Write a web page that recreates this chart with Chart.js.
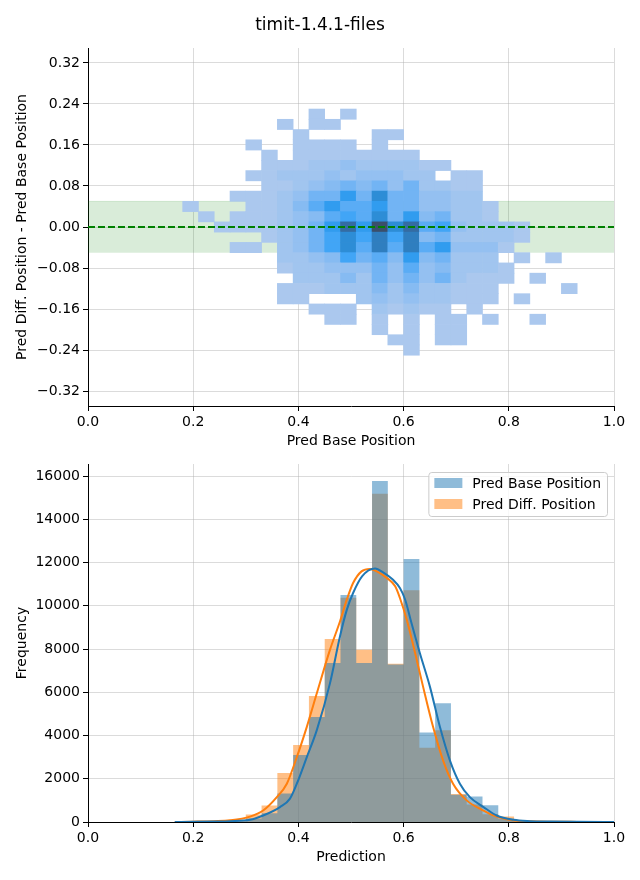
<!DOCTYPE html>
<html><head><meta charset="utf-8">
<script src="https://cdn.jsdelivr.net/npm/chart.js@4.4.1/dist/chart.umd.min.js"></script>
<style>
html,body{margin:0;padding:0;background:#fff;}
#wrap{position:relative;width:640px;height:880px;background:#fff;}
#c1{position:absolute;left:0;top:0;}
#c2{position:absolute;left:0;top:450px;}
</style></head><body>
<div id="wrap"><canvas id="c1" width="640" height="450"></canvas><canvas id="c2" width="640" height="430"></canvas></div>
<script>
// ---------------- data ----------------
const chartTitle = 'timit-1.4.1-files';
const xTicks = [0, 0.2, 0.4, 0.6, 0.8, 1.0];
const yTicksTop = [-0.32, -0.24, -0.16, -0.08, 0, 0.08, 0.16, 0.24, 0.32];
const yTicksBottom = [0, 2000, 4000, 6000, 8000, 10000, 12000, 14000, 16000];

// 2D histogram bins (Pred Base Position x, Pred Diff - Pred Base y)
const xBinCenters = [0.195,0.225,0.255,0.285,0.315,0.345,0.375,0.405,0.435,0.465,0.495,0.525,0.555,0.585,0.615,0.645,0.675,0.705,0.735,0.765,0.795,0.825,0.855,0.885,0.915];
const yBinCenters = [0.22,0.20,0.18,0.16,0.14,0.12,0.10,0.08,0.06,0.04,0.02,0.00,-0.02,-0.04,-0.06,-0.08,-0.10,-0.12,-0.14,-0.16,-0.18,-0.20,-0.22,-0.24];
// density level of each cell (0 = empty), rows follow yBinCenters, columns follow xBinCenters
const heatLevels = [
 [0,0,0,0,0,0,0,0,1,0,1,0,0,0,0,0,0,0,0,0,0,0,0,0,0],
 [0,0,0,0,0,0,1,0,1,1,0,0,0,0,0,0,0,0,0,0,0,0,0,0,0],
 [0,0,0,0,0,0,0,1,0,0,0,0,1,1,0,0,0,0,0,0,0,0,0,0,0],
 [0,0,0,0,1,0,0,1,1,1,1,0,1,0,0,0,0,0,0,0,0,0,0,0,0],
 [0,0,0,0,0,1,0,1,1,1,1,1,1,1,1,0,0,0,0,0,0,0,0,0,0],
 [0,0,0,0,0,1,1,1,2,2,3,2,2,2,2,1,1,0,0,0,0,0,0,0,0],
 [0,0,0,0,1,1,2,2,2,3,2,3,3,3,2,2,0,1,1,0,0,0,0,0,0],
 [0,0,0,0,0,1,1,2,3,4,5,4,5,3,5,2,2,1,1,0,0,0,0,0,0],
 [0,0,0,1,1,1,2,3,5,5,8,5,9,5,5,3,3,2,2,0,0,0,0,0,0],
 [1,0,0,0,1,1,2,4,6,8,6,6,8,5,5,3,3,2,2,1,0,0,0,0,0],
 [0,1,0,1,1,1,2,3,4,6,7,6,9,5,8,4,5,2,2,1,0,0,0,0,0],
 [0,0,1,1,1,1,2,3,5,8,11,8,12,9,11,6,7,3,2,2,2,1,0,0,0],
 [0,0,0,0,0,1,2,3,5,7,9,7,10,7,10,4,5,2,2,2,2,1,0,0,0],
 [0,0,0,1,1,0,2,3,5,7,9,6,10,6,10,6,8,3,3,3,1,0,0,0,0],
 [0,0,0,0,0,0,2,2,3,4,7,5,6,4,8,4,5,2,2,2,0,1,0,1,0],
 [0,0,0,0,0,0,1,2,2,3,3,3,5,3,6,3,4,2,2,2,1,0,0,0,0],
 [0,0,0,0,0,0,0,2,2,2,4,2,5,3,5,3,5,2,1,1,1,0,1,0,0],
 [0,0,0,0,0,0,1,1,1,2,2,2,4,2,4,2,2,1,1,1,0,0,0,0,1],
 [0,0,0,0,0,0,1,1,0,0,0,2,3,2,3,2,2,1,1,1,0,1,0,0,0],
 [0,0,0,0,0,0,0,0,1,1,1,0,2,1,2,1,1,0,1,0,0,0,0,0,0],
 [0,0,0,0,0,0,0,0,0,1,1,0,1,0,1,0,1,1,0,1,0,0,1,0,0],
 [0,0,0,0,0,0,0,0,0,0,0,0,1,0,1,0,1,1,0,0,0,0,0,0,0],
 [0,0,0,0,0,0,0,0,0,0,0,0,0,1,1,0,1,1,0,0,0,0,0,0,0],
 [0,0,0,0,0,0,0,0,0,0,0,0,0,0,1,0,0,0,0,0,0,0,0,0,0]
];
const heatPalette = ['#abc8ee','#a1c5ef','#94c0f1','#86bbf2','#72b4f4','#5aacf5','#41a5f6','#319cef','#2d8dd6','#2f7ebf','#346ca3','#3b4f6b'];
const toleranceBand = [-0.05, 0.05];
const referenceY = 0;

// 1D histograms
const histBinCenters = xBinCenters;
const histBase = [8,15,30,40,160,410,1320,3100,4850,7350,10500,7350,15770,7280,12160,4140,5490,1260,1180,770,160,60,30,15,8];
const histDiff = [5,20,50,100,350,765,2265,3560,5830,8460,10370,7960,15180,7320,10720,3430,4240,1300,810,360,250,70,30,10,5];

// KDE curves
const kdeBaseX = [0.165,0.20,0.24,0.27,0.308,0.333,0.365,0.384,0.397,0.416,0.435,0.46,0.479,0.492,0.504,0.521,0.546,0.561,0.58,0.593,0.603,0.615,0.631,0.65,0.669,0.688,0.707,0.726,0.752,0.777,0.809,0.84,0.88,0.93,1.0];
const kdeBaseY = [0,10,25,40,100,300,690,1080,1770,3000,4250,6410,8580,9810,10590,11360,11720,11545,11200,10820,10280,9200,7800,6260,4400,2850,1770,1150,690,300,100,40,20,8,0];
const kdeDiffX = [0.165,0.20,0.24,0.27,0.308,0.333,0.359,0.378,0.397,0.416,0.435,0.46,0.479,0.492,0.504,0.52,0.536,0.549,0.568,0.584,0.593,0.606,0.622,0.637,0.656,0.675,0.694,0.72,0.752,0.777,0.809,0.84,0.88,0.93,1.0];
const kdeDiffY = [0,15,40,80,250,530,1150,1770,3000,4400,5950,7960,9270,10280,11050,11590,11700,11590,11290,10900,10360,9350,7800,6260,4400,2850,1770,1000,530,250,70,30,12,5,0];

// ---------------- styling ----------------
const FONT = 'DejaVu Sans';
const GRID = 'rgba(176,176,176,0.45)';
const BLUE = '#1f77b4', ORANGE = '#ff7f0e';

function xAxis(title, height, titlePadBottom, z) {
  return {
    type: 'linear', min: 0, max: 1, offset: false, z: z,
    afterBuildTicks: s => { s.ticks = xTicks.map(v => ({value: v})); },
    afterFit: s => { s.height = height; },
    grid: {offset: false, color: GRID, tickColor: '#000', tickLength: 5, lineWidth: 1},
    border: {display: true, color: '#000', width: 1},
    ticks: {color: '#000', font: {family: FONT, size: 14}, padding: 3, maxRotation: 0, autoSkip: false,
            callback: v => Number(v).toFixed(1)},
    title: {display: true, text: title, color: '#000', font: {family: FONT, size: 14}, padding: {top: 0, bottom: titlePadBottom}}
  };
}
function yAxis(title, min, max, ticks, fmt, z) {
  return {
    type: 'linear', min: min, max: max, z: z,
    afterBuildTicks: s => { s.ticks = ticks.map(v => ({value: v})); },
    afterFit: s => { s.width = 88; },
    grid: {color: GRID, tickColor: '#000', tickLength: 5, lineWidth: 1},
    border: {display: true, color: '#000', width: 1},
    ticks: {color: '#000', font: {family: FONT, size: 14}, padding: 3, autoSkip: false, callback: fmt},
    title: {display: true, text: title, color: '#000', font: {family: FONT, size: 14}, padding: {top: 14, bottom: 0}}
  };
}

// figure-level title, centred on the whole canvas
const figTitle = {
  id: 'figTitle',
  afterDraw(chart, args, opts) {
    const ctx = chart.ctx;
    ctx.save();
    ctx.font = '17px "' + FONT + '"';
    ctx.fillStyle = '#000'; ctx.textAlign = 'center'; ctx.textBaseline = 'middle';
    ctx.fillText(opts.text, chart.width / 2, 26);
    ctx.restore();
  }
};

// ---------------- top: 2D histogram ----------------
const heatData = [], heatColors = [];
const halfH = Math.abs(yBinCenters[0] - yBinCenters[1]) / 2;
yBinCenters.forEach((yc, r) => heatLevels[r].forEach((lv, c) => {
  if (lv > 0) { heatData.push({x: xBinCenters[c], y: [yc - halfH, yc + halfH]}); heatColors.push(heatPalette[lv - 1]); }
}));

new Chart(document.getElementById('c1'), {
  type: 'bar',
  data: {datasets: [
    {type: 'line', data: [{x: 0, y: referenceY}, {x: 1, y: referenceY}], borderColor: '#008000', borderWidth: 2,
     borderDash: [7, 3], pointRadius: 0, fill: false, order: 0},
    {type: 'bar', data: heatData, backgroundColor: heatColors, borderWidth: 0, barPercentage: 1,
     categoryPercentage: 1, grouped: false, order: 1},
    {type: 'line', data: [{x: 0, y: toleranceBand[1]}, {x: 1, y: toleranceBand[1]}], fill: {value: toleranceBand[0]},
     backgroundColor: 'rgba(0,128,0,0.15)', borderColor: 'rgba(0,128,0,0.12)', borderWidth: 1, pointRadius: 0, order: 2}
  ]},
  options: {
    responsive: false, animation: false, devicePixelRatio: 1,
    layout: {padding: {left: 0, right: 26, top: 48, bottom: 0}},
    plugins: {
      legend: {display: false}, tooltip: {enabled: false}, title: {display: false},
      figTitle: {text: chartTitle}
    },
    scales: {
      x: xAxis('Pred Base Position', 44, 0.6, 1),
      y: yAxis('Pred Diff. Position - Pred Base Position', -0.349, 0.349, yTicksTop,
               v => { const s = Math.abs(v).toFixed(2); return v < -1e-9 ? '\u2212' + s : s; }, 1)
    }
  },
  plugins: [figTitle]
});

// ---------------- bottom: histograms + KDE ----------------
const boxLegend = {
  id: 'boxLegend',
  afterDraw(chart) {
    const ctx = chart.ctx, area = chart.chartArea;
    const items = chart.data.datasets.filter(d => d.inLegend);
    ctx.save();
    ctx.font = '14px "' + FONT + '"';
    const maxW = Math.max(...items.map(d => ctx.measureText(d.label).width));
    const pad = 6, patchW = 28, patchH = 10, gap = 10, rowH = 21;
    const w = pad + patchW + gap + maxW + pad, h = 44;
    const right = area.right - 7, top = area.top + 8, left = right - w;
    ctx.beginPath();
    if (ctx.roundRect) ctx.roundRect(left + 0.5, top + 0.5, w, h, 3); else ctx.rect(left + 0.5, top + 0.5, w, h);
    ctx.fillStyle = 'rgba(255,255,255,0.8)'; ctx.fill();
    ctx.strokeStyle = '#cccccc'; ctx.lineWidth = 1; ctx.stroke();
    items.forEach((d, i) => {
      const cy = top + 11 + i * rowH;
      ctx.fillStyle = d.backgroundColor;
      ctx.fillRect(left + pad, cy - patchH / 2, patchW, patchH);
      ctx.fillStyle = '#000'; ctx.textBaseline = 'middle'; ctx.textAlign = 'left';
      ctx.fillText(d.label, left + pad + patchW + gap, cy + 1);
    });
    ctx.restore();
  }
};

const pts = (xs, ys) => xs.map((x, i) => ({x: x, y: ys[i]}));
// histogram outline as a stepped polygon: bin centres plus the two outer bin edges
const binW = histBinCenters[1] - histBinCenters[0];
const histPts = ys => [{x: histBinCenters[0] - binW / 2, y: ys[0]}]
  .concat(pts(histBinCenters, ys))
  .concat([{x: histBinCenters[histBinCenters.length - 1] + binW / 2, y: ys[ys.length - 1]}]);

new Chart(document.getElementById('c2'), {
  type: 'line',
  data: {datasets: [
    {label: 'KDE base', data: pts(kdeBaseX, kdeBaseY), borderColor: BLUE, borderWidth: 2,
     pointRadius: 0, cubicInterpolationMode: 'monotone', fill: false, order: 0},
    {label: 'KDE diff', data: pts(kdeDiffX, kdeDiffY), borderColor: ORANGE, borderWidth: 2,
     pointRadius: 0, cubicInterpolationMode: 'monotone', fill: false, order: 1},
    {label: 'Pred Base Position', inLegend: true, data: histPts(histBase), stepped: 'middle', fill: 'origin',
     backgroundColor: 'rgba(31,119,180,0.5)', borderWidth: 0, borderColor: 'rgba(0,0,0,0)', pointRadius: 0, order: 2},
    {label: 'Pred Diff. Position', inLegend: true, data: histPts(histDiff), stepped: 'middle', fill: 'origin',
     backgroundColor: 'rgba(255,127,14,0.5)', borderWidth: 0, borderColor: 'rgba(0,0,0,0)', pointRadius: 0, order: 3}
  ]},
  options: {
    responsive: false, animation: false, devicePixelRatio: 1,
    layout: {padding: {left: 0, right: 26, top: 14, bottom: 0}},
    plugins: {legend: {display: false}, tooltip: {enabled: false}},
    scales: {
      x: xAxis('Prediction', 58, 14.6, 0),
      y: yAxis('Frequency', 0, 16555, yTicksBottom, v => String(v), 0)
    }
  },
  plugins: [boxLegend]
});
</script>
</body></html>
